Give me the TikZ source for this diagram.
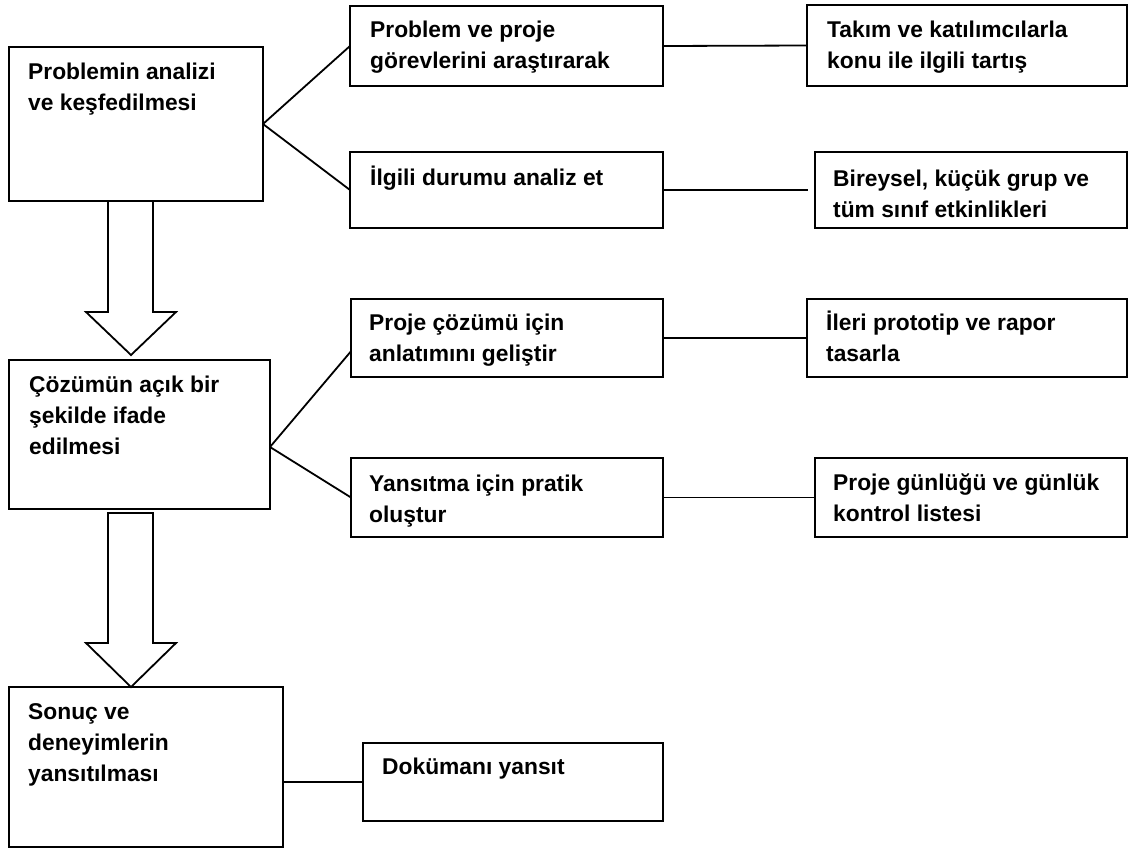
\documentclass[tikz,border=0pt]{standalone}
\usepackage{fontspec}
\setmainfont{Liberation Sans}
\usetikzlibrary{calc}
\newcommand{\boxlines}[1]{\begin{tabular}[t]{@{}l@{}}#1\end{tabular}}
\begin{document}
\begin{tikzpicture}[x=1pt,y=-1pt,
  box/.style={draw, line width=1.8pt, rectangle, inner sep=0pt, outer sep=0pt, anchor=north west},
  txt/.style={anchor=base west, inner sep=0pt, font=\fontsize{22.8}{31}\selectfont\bfseries},
  conn/.style={line width=1.8pt},
  bigarrow/.style={draw, line width=1.8pt, fill=white, line join=miter}]
\useasboundingbox (0,0) rectangle (1134,849);
% boxes
\node[box, minimum width=254pt, minimum height=154pt] (A) at (9,47) {};
\node[box, minimum width=313pt, minimum height=80pt] (B) at (350,6) {};
\node[box, minimum width=313pt, minimum height=76pt] (C) at (350,152) {};
\node[box, minimum width=320pt, minimum height=81pt] (D) at (807,5) {};
\node[box, minimum width=312pt, minimum height=76pt] (E) at (815,152) {};
\node[box, minimum width=261pt, minimum height=149pt] (F) at (9,360) {};
\node[box, minimum width=312pt, minimum height=78pt] (I) at (351,299) {};
\node[box, minimum width=312pt, minimum height=79pt] (J) at (351,458) {};
\node[box, minimum width=320pt, minimum height=78pt] (K) at (807,299) {};
\node[box, minimum width=312pt, minimum height=79pt] (L) at (815,458) {};
\node[box, minimum width=274pt, minimum height=160pt] (G) at (9,687) {};
\node[box, minimum width=300pt, minimum height=78pt] (H) at (363,743) {};
% texts
\node[txt] (tA) at ($(A.north west)+(19,32)$) {\boxlines{Problemin analizi\\ve keşfedilmesi}};
\node[txt] (tB) at ($(B.north west)+(20,31)$) {\boxlines{Problem ve proje\\görevlerini araştırarak}};
\node[txt] (tC) at ($(C.north west)+(20,33)$) {\boxlines{İlgili durumu analiz et}};
\node[txt] (tD) at ($(D.north west)+(20,32)$) {\boxlines{Takım ve katılımcılarla\\konu ile ilgili tartış}};
\node[txt] (tE) at ($(E.north west)+(18,34)$) {\boxlines{Bireysel, küçük grup ve\\tüm sınıf etkinlikleri}};
\node[txt] (tF) at ($(F.north west)+(20,32)$) {\boxlines{Çözümün açık bir\\şekilde ifade\\edilmesi}};
\node[txt] (tI) at ($(I.north west)+(18,31)$) {\boxlines{Proje çözümü için\\anlatımını geliştir}};
\node[txt] (tJ) at ($(J.north west)+(18,33)$) {\boxlines{Yansıtma için pratik\\oluştur}};
\node[txt] (tK) at ($(K.north west)+(19,31)$) {\boxlines{İleri prototip ve rapor\\tasarla}};
\node[txt] (tL) at ($(L.north west)+(18,32)$) {\boxlines{Proje günlüğü ve günlük\\kontrol listesi}};
\node[txt] (tG) at ($(G.north west)+(19,32)$) {\boxlines{Sonuç ve\\deneyimlerin\\yansıtılması}};
\node[txt] (tH) at ($(H.north west)+(19,31)$) {\boxlines{Dokümanı yansıt}};
% connectors
\draw[conn] (A.east) -- (B.west);
\draw[conn] (A.east) -- (C.west);
\draw[conn] (B.east) -- (D.west);
\draw[conn, shorten >=7pt] (C.east |- E.west) -- (E.west);
\coordinate (Fj) at ($(F.east)+(0,12.5)$);
\coordinate (Iin) at ($(I.north west)!0.67!(I.south west)$);
\draw[conn] (Fj) -- (Iin);
\draw[conn] (Fj) -- (J.west);
\draw[conn] (I.east) -- (K.west);
\draw[conn] (J.east) -- (L.west);
\draw[conn] (G.east |- H.west) -- (H.west);
% big arrows
\draw[bigarrow] (108,202) -- (108,312) -- (86,312) -- (131,355) -- (176,312) -- (153,312) -- (153,202);
\draw[bigarrow] (108,513) -- (108,643) -- (86,643) -- (131,687) -- (176,643) -- (153,643) -- (153,513) -- cycle;
\end{tikzpicture}
\end{document}
